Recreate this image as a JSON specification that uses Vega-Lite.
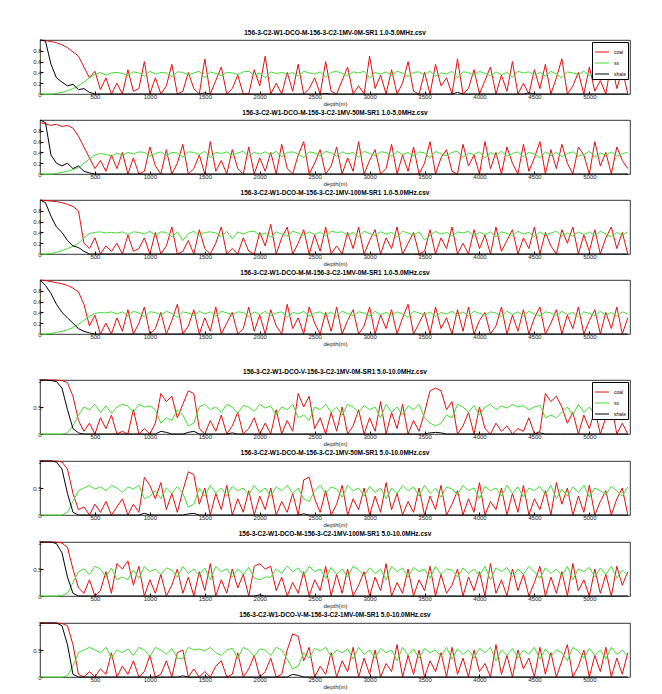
{
"$schema": "https://vega.github.io/schema/vega-lite/v6.json",
"padding": {"top": 29, "left": 32, "right": 4, "bottom": 2},
"config": {
 "font": "Liberation Sans",
 "view": {"stroke": "#000", "strokeWidth": 0.8},
 "axis": {"labelFontSize": 6, "titleFontSize": 6, "titleFontWeight": "normal", "labelColor": "#222", "titleColor": "#222", "domain": false, "grid": false, "tickColor": "#000", "tickSize": -3, "labelPadding": 2, "titlePadding": 1},
 "title": {"fontSize": 6.5, "fontWeight": "bold", "offset": 2, "color": "#000"},
 "line": {"strokeWidth": 1},
 "legend": {"labelFontSize": 5, "symbolType": "stroke", "symbolSize": 200, "symbolStrokeWidth": 1, "strokeColor": "#000", "fillColor": "#fff", "padding": 2, "rowPadding": 0, "orient": "top-right", "offset": 2, "title": null}
},
"datasets": {"t": [
{"p":1,"d":0,"r":1,"g":0,"k":1},{"p":1,"d":50,"r":0.99,"g":0,"k":0.98},{"p":1,"d":100,"r":0.97,"g":0,"k":0.55},{"p":1,"d":150,"r":0.95,"g":0.01,"k":0.3},{"p":1,"d":200,"r":0.91,"g":0.03,"k":0.22},{"p":1,"d":250,"r":0.86,"g":0.06,"k":0.15},{"p":1,"d":300,"r":0.78,"g":0.1,"k":0.18},{"p":1,"d":350,"r":0.7,"g":0.15,"k":0.08},{"p":1,"d":400,"r":0.5,"g":0.22,"k":0.1},{"p":1,"d":450,"r":0.3,"g":0.3,"k":0.03},{"p":1,"d":500,"r":0.42,"g":0.36,"k":0},{"p":1,"d":550,"r":0.08,"g":0.4,"k":0},{"p":1,"d":600,"r":0.3,"g":0.35,"k":0},{"p":1,"d":650,"r":0,"g":0.39,"k":0},
{"p":1,"d":700,"r":0.2,"g":0.4,"k":0},{"p":1,"d":750,"r":0,"g":0.38,"k":0},{"p":1,"d":800,"r":0.45,"g":0.34,"k":0},{"p":1,"d":850,"r":0.05,"g":0.41,"k":0},{"p":1,"d":900,"r":0.1,"g":0.39,"k":0},{"p":1,"d":950,"r":0.6,"g":0.33,"k":0},{"p":1,"d":1000,"r":0,"g":0.42,"k":0},{"p":1,"d":1050,"r":0.3,"g":0.37,"k":0},{"p":1,"d":1100,"r":0,"g":0.4,"k":0},{"p":1,"d":1150,"r":0.15,"g":0.39,"k":0},{"p":1,"d":1200,"r":0.55,"g":0.32,"k":0},{"p":1,"d":1250,"r":0,"g":0.41,"k":0},{"p":1,"d":1300,"r":0.05,"g":0.4,"k":0},{"p":1,"d":1350,"r":0.4,"g":0.35,"k":0},{"p":1,"d":1400,"r":0.1,"g":0.39,"k":0},{"p":1,"d":1450,"r":0,"g":0.42,"k":0},{"p":1,"d":1500,"r":0.65,"g":0.3,"k":0.02},{"p":1,"d":1550,"r":0,"g":0.41,"k":0},{"p":1,"d":1600,"r":0.25,"g":0.38,"k":0},{"p":1,"d":1650,"r":0.5,"g":0.34,"k":0},{"p":1,"d":1700,"r":0,"g":0.4,"k":0},{"p":1,"d":1750,"r":0.1,"g":0.39,"k":0},{"p":1,"d":1800,"r":0.35,"g":0.36,"k":0},{"p":1,"d":1850,"r":0,"g":0.41,"k":0},{"p":1,"d":1900,"r":0,"g":0.42,"k":0},{"p":1,"d":1950,"r":0.45,"g":0.35,"k":0},{"p":1,"d":2000,"r":0.15,"g":0.39,"k":0},{"p":1,"d":2050,"r":0.7,"g":0.3,"k":0},{"p":1,"d":2100,"r":0,"g":0.41,"k":0},{"p":1,"d":2150,"r":0.2,"g":0.38,"k":0},{"p":1,"d":2200,"r":0,"g":0.4,"k":0},{"p":1,"d":2250,"r":0.4,"g":0.36,"k":0},{"p":1,"d":2300,"r":0.05,"g":0.4,"k":0},{"p":1,"d":2350,"r":0.55,"g":0.33,"k":0},{"p":1,"d":2400,"r":0,"g":0.42,"k":0},{"p":1,"d":2450,"r":0.1,"g":0.39,"k":0},{"p":1,"d":2500,"r":0.3,"g":0.37,"k":0},{"p":1,"d":2550,"r":0,"g":0.41,"k":0},{"p":1,"d":2600,"r":0.6,"g":0.31,"k":0.01},{"p":1,"d":2650,"r":0.05,"g":0.4,"k":0},{"p":1,"d":2700,"r":0,"g":0.42,"k":0},{"p":1,"d":2750,"r":0.25,"g":0.38,"k":0},{"p":1,"d":2800,"r":0.5,"g":0.34,"k":0},{"p":1,"d":2850,"r":0,"g":0.41,"k":0},{"p":1,"d":2900,"r":0.15,"g":0.39,"k":0},{"p":1,"d":2950,"r":0,"g":0.42,"k":0},{"p":1,"d":3000,"r":0.7,"g":0.3,"k":0},{"p":1,"d":3050,"r":0.1,"g":0.4,"k":0},{"p":1,"d":3100,"r":0.35,"g":0.37,"k":0},{"p":1,"d":3150,"r":0,"g":0.41,"k":0},{"p":1,"d":3200,"r":0.45,"g":0.35,"k":0},{"p":1,"d":3250,"r":0,"g":0.42,"k":0},{"p":1,"d":3300,"r":0.2,"g":0.39,"k":0},{"p":1,"d":3350,"r":0.6,"g":0.32,"k":0},{"p":1,"d":3400,"r":0.05,"g":0.4,"k":0},{"p":1,"d":3450,"r":0,"g":0.41,"k":0},{"p":1,"d":3500,"r":0.4,"g":0.36,"k":0},{"p":1,"d":3550,"r":0,"g":0.42,"k":0},{"p":1,"d":3600,"r":0.55,"g":0.33,"k":0},{"p":1,"d":3650,"r":0.15,"g":0.39,"k":0},{"p":1,"d":3700,"r":0.3,"g":0.37,"k":0},{"p":1,"d":3750,"r":0,"g":0.42,"k":0},{"p":1,"d":3800,"r":0.65,"g":0.3,"k":0.03},{"p":1,"d":3850,"r":0,"g":0.41,"k":0},{"p":1,"d":3900,"r":0.1,"g":0.4,"k":0},{"p":1,"d":3950,"r":0.45,"g":0.35,"k":0},{"p":1,"d":4000,"r":0,"g":0.42,"k":0},{"p":1,"d":4050,"r":0.25,"g":0.38,"k":0},{"p":1,"d":4100,"r":0.5,"g":0.34,"k":0},{"p":1,"d":4150,"r":0,"g":0.41,"k":0},{"p":1,"d":4200,"r":0.35,"g":0.36,"k":0},{"p":1,"d":4250,"r":0.05,"g":0.4,"k":0},{"p":1,"d":4300,"r":0.6,"g":0.31,"k":0},{"p":1,"d":4350,"r":0,"g":0.42,"k":0},{"p":1,"d":4400,"r":0.2,"g":0.39,"k":0},{"p":1,"d":4450,"r":0,"g":0.41,"k":0.02},{"p":1,"d":4500,"r":0.45,"g":0.35,"k":0},{"p":1,"d":4550,"r":0.1,"g":0.4,"k":0},{"p":1,"d":4600,"r":0.55,"g":0.33,"k":0},{"p":1,"d":4650,"r":0,"g":0.42,"k":0},{"p":1,"d":4700,"r":0.3,"g":0.37,"k":0},{"p":1,"d":4750,"r":0.65,"g":0.3,"k":0},{"p":1,"d":4800,"r":0,"g":0.41,"k":0},{"p":1,"d":4850,"r":0.15,"g":0.39,"k":0},{"p":1,"d":4900,"r":0.4,"g":0.36,"k":0},{"p":1,"d":4950,"r":0,"g":0.42,"k":0},{"p":1,"d":5000,"r":0.5,"g":0.34,"k":0},{"p":1,"d":5050,"r":0.05,"g":0.4,"k":0},{"p":1,"d":5100,"r":0.25,"g":0.38,"k":0},{"p":1,"d":5150,"r":0,"g":0.41,"k":0},{"p":1,"d":5200,"r":0.6,"g":0.32,"k":0},{"p":1,"d":5250,"r":0.1,"g":0.4,"k":0},{"p":1,"d":5300,"r":0.45,"g":0.35,"k":0},{"p":1,"d":5350,"r":0,"g":0.41,"k":0},

{"p":2,"d":0,"r":0.95,"g":0,"k":1},{"p":2,"d":50,"r":0.93,"g":0,"k":0.95},{"p":2,"d":100,"r":0.9,"g":0,"k":0.35},{"p":2,"d":150,"r":0.92,"g":0.01,"k":0.2},{"p":2,"d":200,"r":0.88,"g":0.03,"k":0.15},{"p":2,"d":250,"r":0.9,"g":0.05,"k":0.2},{"p":2,"d":300,"r":0.85,"g":0.08,"k":0.1},{"p":2,"d":350,"r":0.7,"g":0.12,"k":0.15},{"p":2,"d":400,"r":0.5,"g":0.2,"k":0.05},{"p":2,"d":450,"r":0.3,"g":0.28,"k":0.02},{"p":2,"d":500,"r":0.1,"g":0.35,"k":0},{"p":2,"d":550,"r":0.25,"g":0.38,"k":0},{"p":2,"d":600,"r":0.05,"g":0.36,"k":0},{"p":2,"d":650,"r":0.35,"g":0.33,"k":0},
{"p":2,"d":700,"r":0.1,"g":0.39,"k":0},{"p":2,"d":750,"r":0.4,"g":0.35,"k":0},{"p":2,"d":800,"r":0,"g":0.4,"k":0},{"p":2,"d":850,"r":0.3,"g":0.37,"k":0},{"p":2,"d":900,"r":0,"g":0.41,"k":0},{"p":2,"d":950,"r":0.05,"g":0.4,"k":0},{"p":2,"d":1000,"r":0.5,"g":0.33,"k":0},{"p":2,"d":1050,"r":0.15,"g":0.38,"k":0},{"p":2,"d":1100,"r":0,"g":0.41,"k":0},{"p":2,"d":1150,"r":0.45,"g":0.34,"k":0},{"p":2,"d":1200,"r":0,"g":0.4,"k":0},{"p":2,"d":1250,"r":0.2,"g":0.39,"k":0},{"p":2,"d":1300,"r":0.55,"g":0.31,"k":0},{"p":2,"d":1350,"r":0,"g":0.41,"k":0},{"p":2,"d":1400,"r":0.1,"g":0.4,"k":0},{"p":2,"d":1450,"r":0.35,"g":0.36,"k":0},{"p":2,"d":1500,"r":0,"g":0.42,"k":0},{"p":2,"d":1550,"r":0.6,"g":0.3,"k":0},{"p":2,"d":1600,"r":0.05,"g":0.4,"k":0},{"p":2,"d":1650,"r":0.25,"g":0.38,"k":0},{"p":2,"d":1700,"r":0,"g":0.41,"k":0},{"p":2,"d":1750,"r":0.45,"g":0.35,"k":0},{"p":2,"d":1800,"r":0.1,"g":0.39,"k":0},{"p":2,"d":1850,"r":0,"g":0.42,"k":0},{"p":2,"d":1900,"r":0.5,"g":0.33,"k":0},{"p":2,"d":1950,"r":0,"g":0.4,"k":0},{"p":2,"d":2000,"r":0.3,"g":0.37,"k":0},{"p":2,"d":2050,"r":0.05,"g":0.41,"k":0},{"p":2,"d":2100,"r":0.4,"g":0.36,"k":0},{"p":2,"d":2150,"r":0,"g":0.42,"k":0},{"p":2,"d":2200,"r":0.55,"g":0.32,"k":0},{"p":2,"d":2250,"r":0.1,"g":0.4,"k":0},{"p":2,"d":2300,"r":0,"g":0.41,"k":0},{"p":2,"d":2350,"r":0.35,"g":0.37,"k":0},{"p":2,"d":2400,"r":0.6,"g":0.3,"k":0},{"p":2,"d":2450,"r":0,"g":0.41,"k":0},{"p":2,"d":2500,"r":0.2,"g":0.39,"k":0},{"p":2,"d":2550,"r":0.45,"g":0.34,"k":0},{"p":2,"d":2600,"r":0,"g":0.42,"k":0},{"p":2,"d":2650,"r":0.15,"g":0.39,"k":0},{"p":2,"d":2700,"r":0.5,"g":0.33,"k":0},{"p":2,"d":2750,"r":0,"g":0.41,"k":0},{"p":2,"d":2800,"r":0.3,"g":0.37,"k":0},{"p":2,"d":2850,"r":0.05,"g":0.4,"k":0},{"p":2,"d":2900,"r":0.6,"g":0.31,"k":0},{"p":2,"d":2950,"r":0,"g":0.42,"k":0},{"p":2,"d":3000,"r":0.25,"g":0.38,"k":0},{"p":2,"d":3050,"r":0.45,"g":0.34,"k":0},{"p":2,"d":3100,"r":0,"g":0.41,"k":0},{"p":2,"d":3150,"r":0.1,"g":0.4,"k":0},{"p":2,"d":3200,"r":0.55,"g":0.32,"k":0},{"p":2,"d":3250,"r":0,"g":0.42,"k":0},{"p":2,"d":3300,"r":0.35,"g":0.36,"k":0},{"p":2,"d":3350,"r":0.05,"g":0.4,"k":0},{"p":2,"d":3400,"r":0.5,"g":0.33,"k":0},{"p":2,"d":3450,"r":0,"g":0.41,"k":0},{"p":2,"d":3500,"r":0.2,"g":0.39,"k":0},{"p":2,"d":3550,"r":0.6,"g":0.3,"k":0},{"p":2,"d":3600,"r":0,"g":0.42,"k":0},{"p":2,"d":3650,"r":0.3,"g":0.37,"k":0},{"p":2,"d":3700,"r":0.45,"g":0.34,"k":0},{"p":2,"d":3750,"r":0.05,"g":0.4,"k":0},{"p":2,"d":3800,"r":0,"g":0.42,"k":0},{"p":2,"d":3850,"r":0.55,"g":0.31,"k":0},{"p":2,"d":3900,"r":0.15,"g":0.39,"k":0},{"p":2,"d":3950,"r":0.35,"g":0.36,"k":0},{"p":2,"d":4000,"r":0,"g":0.41,"k":0},{"p":2,"d":4050,"r":0.6,"g":0.3,"k":0},{"p":2,"d":4100,"r":0.1,"g":0.4,"k":0},{"p":2,"d":4150,"r":0.4,"g":0.35,"k":0},{"p":2,"d":4200,"r":0,"g":0.42,"k":0},{"p":2,"d":4250,"r":0.5,"g":0.33,"k":0},{"p":2,"d":4300,"r":0.2,"g":0.38,"k":0},{"p":2,"d":4350,"r":0,"g":0.41,"k":0},{"p":2,"d":4400,"r":0.55,"g":0.32,"k":0},{"p":2,"d":4450,"r":0.05,"g":0.4,"k":0},{"p":2,"d":4500,"r":0.3,"g":0.37,"k":0},{"p":2,"d":4550,"r":0.6,"g":0.3,"k":0},{"p":2,"d":4600,"r":0,"g":0.41,"k":0},{"p":2,"d":4650,"r":0.45,"g":0.34,"k":0},{"p":2,"d":4700,"r":0.1,"g":0.4,"k":0},{"p":2,"d":4750,"r":0.55,"g":0.32,"k":0},{"p":2,"d":4800,"r":0.2,"g":0.38,"k":0},{"p":2,"d":4850,"r":0,"g":0.41,"k":0},{"p":2,"d":4900,"r":0.5,"g":0.33,"k":0},{"p":2,"d":4950,"r":0.35,"g":0.36,"k":0},{"p":2,"d":5000,"r":0,"g":0.42,"k":0},{"p":2,"d":5050,"r":0.6,"g":0.31,"k":0},{"p":2,"d":5100,"r":0.15,"g":0.39,"k":0},{"p":2,"d":5150,"r":0.4,"g":0.35,"k":0},{"p":2,"d":5200,"r":0,"g":0.41,"k":0},{"p":2,"d":5250,"r":0.5,"g":0.33,"k":0},{"p":2,"d":5300,"r":0.25,"g":0.38,"k":0},{"p":2,"d":5350,"r":0.1,"g":0.4,"k":0},

{"p":3,"d":0,"r":1,"g":0,"k":1},{"p":3,"d":50,"r":0.99,"g":0,"k":0.95},{"p":3,"d":100,"r":0.98,"g":0.01,"k":0.7},{"p":3,"d":150,"r":0.97,"g":0.03,"k":0.5},{"p":3,"d":200,"r":0.95,"g":0.06,"k":0.4},{"p":3,"d":250,"r":0.92,"g":0.1,"k":0.25},{"p":3,"d":300,"r":0.88,"g":0.14,"k":0.15},{"p":3,"d":350,"r":0.8,"g":0.2,"k":0.12},{"p":3,"d":400,"r":0.2,"g":0.3,"k":0.05},{"p":3,"d":450,"r":0.1,"g":0.38,"k":0},{"p":3,"d":500,"r":0.3,"g":0.4,"k":0},{"p":3,"d":550,"r":0,"g":0.41,"k":0},{"p":3,"d":600,"r":0.15,"g":0.39,"k":0},{"p":3,"d":650,"r":0.05,"g":0.4,"k":0},
{"p":3,"d":700,"r":0.2,"g":0.39,"k":0},{"p":3,"d":750,"r":0,"g":0.41,"k":0},{"p":3,"d":800,"r":0.35,"g":0.36,"k":0},{"p":3,"d":850,"r":0.05,"g":0.41,"k":0},{"p":3,"d":900,"r":0.1,"g":0.4,"k":0},{"p":3,"d":950,"r":0.3,"g":0.37,"k":0},{"p":3,"d":1000,"r":0,"g":0.42,"k":0},{"p":3,"d":1050,"r":0.4,"g":0.35,"k":0},{"p":3,"d":1100,"r":0,"g":0.41,"k":0},{"p":3,"d":1150,"r":0.15,"g":0.4,"k":0},{"p":3,"d":1200,"r":0.5,"g":0.32,"k":0},{"p":3,"d":1250,"r":0,"g":0.41,"k":0},{"p":3,"d":1300,"r":0.05,"g":0.25,"k":0},{"p":3,"d":1350,"r":0.25,"g":0.38,"k":0},{"p":3,"d":1400,"r":0,"g":0.42,"k":0},{"p":3,"d":1450,"r":0.45,"g":0.34,"k":0},{"p":3,"d":1500,"r":0.1,"g":0.4,"k":0},{"p":3,"d":1550,"r":0,"g":0.41,"k":0},{"p":3,"d":1600,"r":0.2,"g":0.39,"k":0},{"p":3,"d":1650,"r":0.5,"g":0.32,"k":0},{"p":3,"d":1700,"r":0,"g":0.42,"k":0},{"p":3,"d":1750,"r":0.1,"g":0.28,"k":0},{"p":3,"d":1800,"r":0,"g":0.41,"k":0},{"p":3,"d":1850,"r":0.3,"g":0.37,"k":0},{"p":3,"d":1900,"r":0.05,"g":0.41,"k":0},{"p":3,"d":1950,"r":0,"g":0.42,"k":0},{"p":3,"d":2000,"r":0.4,"g":0.35,"k":0},{"p":3,"d":2050,"r":0.15,"g":0.39,"k":0},{"p":3,"d":2100,"r":0.55,"g":0.31,"k":0},{"p":3,"d":2150,"r":0,"g":0.41,"k":0},{"p":3,"d":2200,"r":0.3,"g":0.37,"k":0},{"p":3,"d":2250,"r":0.5,"g":0.33,"k":0},{"p":3,"d":2300,"r":0,"g":0.42,"k":0},{"p":3,"d":2350,"r":0.2,"g":0.39,"k":0},{"p":3,"d":2400,"r":0.45,"g":0.34,"k":0},{"p":3,"d":2450,"r":0,"g":0.41,"k":0},{"p":3,"d":2500,"r":0.35,"g":0.36,"k":0},{"p":3,"d":2550,"r":0.05,"g":0.41,"k":0},{"p":3,"d":2600,"r":0.5,"g":0.33,"k":0},{"p":3,"d":2650,"r":0,"g":0.42,"k":0},{"p":3,"d":2700,"r":0.15,"g":0.4,"k":0},{"p":3,"d":2750,"r":0,"g":0.41,"k":0},{"p":3,"d":2800,"r":0.4,"g":0.35,"k":0},{"p":3,"d":2850,"r":0.1,"g":0.4,"k":0},{"p":3,"d":2900,"r":0.5,"g":0.32,"k":0},{"p":3,"d":2950,"r":0,"g":0.42,"k":0},{"p":3,"d":3000,"r":0.25,"g":0.38,"k":0},{"p":3,"d":3050,"r":0.45,"g":0.34,"k":0},{"p":3,"d":3100,"r":0,"g":0.41,"k":0},{"p":3,"d":3150,"r":0.3,"g":0.37,"k":0},{"p":3,"d":3200,"r":0.1,"g":0.4,"k":0},{"p":3,"d":3250,"r":0.5,"g":0.32,"k":0},{"p":3,"d":3300,"r":0,"g":0.42,"k":0},{"p":3,"d":3350,"r":0.2,"g":0.39,"k":0},{"p":3,"d":3400,"r":0.4,"g":0.35,"k":0},{"p":3,"d":3450,"r":0,"g":0.41,"k":0},{"p":3,"d":3500,"r":0.05,"g":0.26,"k":0},{"p":3,"d":3550,"r":0.45,"g":0.34,"k":0},{"p":3,"d":3600,"r":0,"g":0.42,"k":0},{"p":3,"d":3650,"r":0.3,"g":0.37,"k":0},{"p":3,"d":3700,"r":0.1,"g":0.4,"k":0},{"p":3,"d":3750,"r":0.5,"g":0.33,"k":0},{"p":3,"d":3800,"r":0,"g":0.41,"k":0},{"p":3,"d":3850,"r":0.2,"g":0.39,"k":0},{"p":3,"d":3900,"r":0,"g":0.42,"k":0},{"p":3,"d":3950,"r":0.45,"g":0.34,"k":0},{"p":3,"d":4000,"r":0.1,"g":0.4,"k":0},{"p":3,"d":4050,"r":0.35,"g":0.36,"k":0},{"p":3,"d":4100,"r":0,"g":0.41,"k":0},{"p":3,"d":4150,"r":0.5,"g":0.32,"k":0},{"p":3,"d":4200,"r":0.05,"g":0.41,"k":0},{"p":3,"d":4250,"r":0.25,"g":0.38,"k":0},{"p":3,"d":4300,"r":0.45,"g":0.34,"k":0},{"p":3,"d":4350,"r":0,"g":0.42,"k":0},{"p":3,"d":4400,"r":0.3,"g":0.37,"k":0},{"p":3,"d":4450,"r":0.1,"g":0.4,"k":0},{"p":3,"d":4500,"r":0.5,"g":0.32,"k":0},{"p":3,"d":4550,"r":0,"g":0.41,"k":0},{"p":3,"d":4600,"r":0.4,"g":0.35,"k":0},{"p":3,"d":4650,"r":0.15,"g":0.39,"k":0},{"p":3,"d":4700,"r":0,"g":0.42,"k":0},{"p":3,"d":4750,"r":0.45,"g":0.34,"k":0},{"p":3,"d":4800,"r":0.2,"g":0.39,"k":0},{"p":3,"d":4850,"r":0.5,"g":0.33,"k":0},{"p":3,"d":4900,"r":0,"g":0.41,"k":0},{"p":3,"d":4950,"r":0.35,"g":0.36,"k":0},{"p":3,"d":5000,"r":0.05,"g":0.41,"k":0},{"p":3,"d":5050,"r":0.45,"g":0.34,"k":0},{"p":3,"d":5100,"r":0,"g":0.42,"k":0},{"p":3,"d":5150,"r":0.3,"g":0.37,"k":0},{"p":3,"d":5200,"r":0.5,"g":0.32,"k":0},{"p":3,"d":5250,"r":0.1,"g":0.4,"k":0},{"p":3,"d":5300,"r":0.4,"g":0.35,"k":0},{"p":3,"d":5350,"r":0,"g":0.41,"k":0},

{"p":4,"d":0,"r":1,"g":0,"k":1},{"p":4,"d":50,"r":0.99,"g":0,"k":0.9},{"p":4,"d":100,"r":0.97,"g":0.01,"k":0.75},{"p":4,"d":150,"r":0.95,"g":0.03,"k":0.55},{"p":4,"d":200,"r":0.93,"g":0.05,"k":0.4},{"p":4,"d":250,"r":0.9,"g":0.08,"k":0.3},{"p":4,"d":300,"r":0.85,"g":0.12,"k":0.2},{"p":4,"d":350,"r":0.78,"g":0.18,"k":0.1},{"p":4,"d":400,"r":0.55,"g":0.25,"k":0.05},{"p":4,"d":450,"r":0.15,"g":0.33,"k":0.02},{"p":4,"d":500,"r":0.35,"g":0.38,"k":0},{"p":4,"d":550,"r":0,"g":0.4,"k":0},{"p":4,"d":600,"r":0.2,"g":0.39,"k":0},{"p":4,"d":650,"r":0,"g":0.41,"k":0},
{"p":4,"d":700,"r":0.3,"g":0.37,"k":0},{"p":4,"d":750,"r":0.05,"g":0.41,"k":0},{"p":4,"d":800,"r":0.45,"g":0.34,"k":0},{"p":4,"d":850,"r":0,"g":0.42,"k":0},{"p":4,"d":900,"r":0.2,"g":0.39,"k":0},{"p":4,"d":950,"r":0.5,"g":0.32,"k":0},{"p":4,"d":1000,"r":0,"g":0.41,"k":0},{"p":4,"d":1050,"r":0.1,"g":0.4,"k":0},{"p":4,"d":1100,"r":0.4,"g":0.35,"k":0},{"p":4,"d":1150,"r":0,"g":0.42,"k":0},{"p":4,"d":1200,"r":0.25,"g":0.38,"k":0},{"p":4,"d":1250,"r":0.55,"g":0.31,"k":0},{"p":4,"d":1300,"r":0,"g":0.41,"k":0},{"p":4,"d":1350,"r":0.15,"g":0.39,"k":0},{"p":4,"d":1400,"r":0.45,"g":0.34,"k":0},{"p":4,"d":1450,"r":0,"g":0.42,"k":0},{"p":4,"d":1500,"r":0.3,"g":0.37,"k":0},{"p":4,"d":1550,"r":0.05,"g":0.41,"k":0},{"p":4,"d":1600,"r":0.5,"g":0.33,"k":0},{"p":4,"d":1650,"r":0,"g":0.42,"k":0},{"p":4,"d":1700,"r":0.2,"g":0.39,"k":0},{"p":4,"d":1750,"r":0.4,"g":0.35,"k":0},{"p":4,"d":1800,"r":0,"g":0.41,"k":0},{"p":4,"d":1850,"r":0.1,"g":0.4,"k":0},{"p":4,"d":1900,"r":0.5,"g":0.32,"k":0},{"p":4,"d":1950,"r":0.05,"g":0.41,"k":0},{"p":4,"d":2000,"r":0.35,"g":0.36,"k":0},{"p":4,"d":2050,"r":0,"g":0.42,"k":0},{"p":4,"d":2100,"r":0.45,"g":0.34,"k":0},{"p":4,"d":2150,"r":0.15,"g":0.39,"k":0},{"p":4,"d":2200,"r":0,"g":0.41,"k":0},{"p":4,"d":2250,"r":0.55,"g":0.31,"k":0},{"p":4,"d":2300,"r":0.1,"g":0.4,"k":0},{"p":4,"d":2350,"r":0.3,"g":0.37,"k":0},{"p":4,"d":2400,"r":0,"g":0.42,"k":0},{"p":4,"d":2450,"r":0.5,"g":0.33,"k":0},{"p":4,"d":2500,"r":0.2,"g":0.39,"k":0},{"p":4,"d":2550,"r":0,"g":0.41,"k":0},{"p":4,"d":2600,"r":0.4,"g":0.35,"k":0},{"p":4,"d":2650,"r":0.05,"g":0.41,"k":0},{"p":4,"d":2700,"r":0.5,"g":0.32,"k":0},{"p":4,"d":2750,"r":0,"g":0.42,"k":0},{"p":4,"d":2800,"r":0.25,"g":0.38,"k":0},{"p":4,"d":2850,"r":0.45,"g":0.34,"k":0},{"p":4,"d":2900,"r":0,"g":0.41,"k":0},{"p":4,"d":2950,"r":0.15,"g":0.39,"k":0},{"p":4,"d":3000,"r":0.5,"g":0.33,"k":0},{"p":4,"d":3050,"r":0,"g":0.42,"k":0},{"p":4,"d":3100,"r":0.35,"g":0.36,"k":0},{"p":4,"d":3150,"r":0.1,"g":0.4,"k":0},{"p":4,"d":3200,"r":0.45,"g":0.34,"k":0},{"p":4,"d":3250,"r":0,"g":0.41,"k":0},{"p":4,"d":3300,"r":0.3,"g":0.37,"k":0},{"p":4,"d":3350,"r":0.55,"g":0.31,"k":0},{"p":4,"d":3400,"r":0,"g":0.42,"k":0},{"p":4,"d":3450,"r":0.2,"g":0.39,"k":0},{"p":4,"d":3500,"r":0.4,"g":0.35,"k":0},{"p":4,"d":3550,"r":0,"g":0.41,"k":0},{"p":4,"d":3600,"r":0.5,"g":0.32,"k":0},{"p":4,"d":3650,"r":0.1,"g":0.4,"k":0},{"p":4,"d":3700,"r":0.3,"g":0.37,"k":0},{"p":4,"d":3750,"r":0,"g":0.42,"k":0},{"p":4,"d":3800,"r":0.45,"g":0.34,"k":0},{"p":4,"d":3850,"r":0.05,"g":0.41,"k":0},{"p":4,"d":3900,"r":0.5,"g":0.33,"k":0},{"p":4,"d":3950,"r":0,"g":0.42,"k":0},{"p":4,"d":4000,"r":0.25,"g":0.38,"k":0},{"p":4,"d":4050,"r":0.4,"g":0.35,"k":0},{"p":4,"d":4100,"r":0,"g":0.41,"k":0},{"p":4,"d":4150,"r":0.15,"g":0.39,"k":0},{"p":4,"d":4200,"r":0.5,"g":0.32,"k":0},{"p":4,"d":4250,"r":0,"g":0.42,"k":0},{"p":4,"d":4300,"r":0.35,"g":0.36,"k":0},{"p":4,"d":4350,"r":0.05,"g":0.41,"k":0},{"p":4,"d":4400,"r":0.45,"g":0.34,"k":0},{"p":4,"d":4450,"r":0,"g":0.42,"k":0},{"p":4,"d":4500,"r":0.3,"g":0.37,"k":0},{"p":4,"d":4550,"r":0.5,"g":0.33,"k":0},{"p":4,"d":4600,"r":0,"g":0.41,"k":0},{"p":4,"d":4650,"r":0.2,"g":0.39,"k":0},{"p":4,"d":4700,"r":0.45,"g":0.34,"k":0},{"p":4,"d":4750,"r":0,"g":0.42,"k":0},{"p":4,"d":4800,"r":0.35,"g":0.36,"k":0},{"p":4,"d":4850,"r":0.1,"g":0.4,"k":0},{"p":4,"d":4900,"r":0.5,"g":0.32,"k":0},{"p":4,"d":4950,"r":0,"g":0.41,"k":0},{"p":4,"d":5000,"r":0.25,"g":0.38,"k":0},{"p":4,"d":5050,"r":0.45,"g":0.34,"k":0},{"p":4,"d":5100,"r":0,"g":0.42,"k":0},{"p":4,"d":5150,"r":0.4,"g":0.35,"k":0},{"p":4,"d":5200,"r":0.1,"g":0.4,"k":0},{"p":4,"d":5250,"r":0.5,"g":0.33,"k":0},{"p":4,"d":5300,"r":0,"g":0.41,"k":0},{"p":4,"d":5350,"r":0.3,"g":0.37,"k":0},

{"p":5,"d":0,"r":1,"g":0,"k":1},{"p":5,"d":50,"r":1,"g":0,"k":1},{"p":5,"d":100,"r":1,"g":0,"k":0.99},{"p":5,"d":150,"r":1,"g":0,"k":0.97},{"p":5,"d":200,"r":0.99,"g":0,"k":0.85},{"p":5,"d":250,"r":0.95,"g":0.02,"k":0.45},{"p":5,"d":300,"r":0.7,"g":0.15,"k":0.1},{"p":5,"d":350,"r":0.25,"g":0.35,"k":0.02},{"p":5,"d":400,"r":0.05,"g":0.5,"k":0},{"p":5,"d":450,"r":0.2,"g":0.45,"k":0},{"p":5,"d":500,"r":0,"g":0.55,"k":0},{"p":5,"d":550,"r":0.3,"g":0.4,"k":0},{"p":5,"d":600,"r":0.1,"g":0.52,"k":0},{"p":5,"d":650,"r":0.35,"g":0.38,"k":0},{"p":5,"d":700,"r":0,"g":0.5,"k":0},{"p":5,"d":750,"r":0.05,"g":0.55,"k":0},{"p":5,"d":800,"r":0,"g":0.52,"k":0},{"p":5,"d":850,"r":0.45,"g":0.4,"k":0},{"p":5,"d":900,"r":0,"g":0.55,"k":0},{"p":5,"d":950,"r":0.1,"g":0.5,"k":0},{"p":5,"d":1000,"r":0,"g":0.52,"k":0},{"p":5,"d":1050,"r":0.2,"g":0.45,"k":0},{"p":5,"d":1100,"r":0.75,"g":0.2,"k":0.05},{"p":5,"d":1150,"r":0.6,"g":0.3,"k":0.03},{"p":5,"d":1200,"r":0.7,"g":0.25,"k":0},{"p":5,"d":1250,"r":0.3,"g":0.45,"k":0},{"p":5,"d":1300,"r":0.55,"g":0.35,"k":0},{"p":5,"d":1350,"r":0.8,"g":0.15,"k":0.03},{"p":5,"d":1400,"r":0.75,"g":0.2,"k":0.05},{"p":5,"d":1450,"r":0.1,"g":0.5,"k":0},{"p":5,"d":1500,"r":0,"g":0.55,"k":0},{"p":5,"d":1550,"r":0.25,"g":0.45,"k":0},{"p":5,"d":1600,"r":0.05,"g":0.5,"k":0},{"p":5,"d":1650,"r":0.35,"g":0.4,"k":0},{"p":5,"d":1700,"r":0,"g":0.55,"k":0},{"p":5,"d":1750,"r":0.15,"g":0.5,"k":0.02},{"p":5,"d":1800,"r":0.4,"g":0.38,"k":0},{"p":5,"d":1850,"r":0,"g":0.53,"k":0},{"p":5,"d":1900,"r":0.1,"g":0.5,"k":0},{"p":5,"d":1950,"r":0.3,"g":0.42,"k":0},{"p":5,"d":2000,"r":0,"g":0.55,"k":0},{"p":5,"d":2050,"r":0.2,"g":0.48,"k":0},{"p":5,"d":2100,"r":0,"g":0.52,"k":0},{"p":5,"d":2150,"r":0.45,"g":0.35,"k":0},{"p":5,"d":2200,"r":0,"g":0.5,"k":0},{"p":5,"d":2250,"r":0.25,"g":0.45,"k":0},{"p":5,"d":2300,"r":0.05,"g":0.55,"k":0},{"p":5,"d":2350,"r":0.75,"g":0.3,"k":0},{"p":5,"d":2400,"r":0.5,"g":0.35,"k":0},{"p":5,"d":2450,"r":0.7,"g":0.25,"k":0},{"p":5,"d":2500,"r":0.1,"g":0.5,"k":0},{"p":5,"d":2550,"r":0.3,"g":0.45,"k":0},{"p":5,"d":2600,"r":0,"g":0.55,"k":0},{"p":5,"d":2650,"r":0.4,"g":0.4,"k":0},{"p":5,"d":2700,"r":0.05,"g":0.5,"k":0},{"p":5,"d":2750,"r":0.5,"g":0.35,"k":0},{"p":5,"d":2800,"r":0,"g":0.55,"k":0},{"p":5,"d":2850,"r":0.15,"g":0.5,"k":0},{"p":5,"d":2900,"r":0.45,"g":0.4,"k":0},{"p":5,"d":2950,"r":0,"g":0.53,"k":0},{"p":5,"d":3000,"r":0.3,"g":0.45,"k":0},{"p":5,"d":3050,"r":0.05,"g":0.5,"k":0},{"p":5,"d":3100,"r":0.6,"g":0.3,"k":0},{"p":5,"d":3150,"r":0,"g":0.55,"k":0},{"p":5,"d":3200,"r":0.4,"g":0.4,"k":0},{"p":5,"d":3250,"r":0.1,"g":0.5,"k":0},{"p":5,"d":3300,"r":0.55,"g":0.35,"k":0},{"p":5,"d":3350,"r":0,"g":0.52,"k":0},{"p":5,"d":3400,"r":0.25,"g":0.45,"k":0},{"p":5,"d":3450,"r":0.05,"g":0.55,"k":0},{"p":5,"d":3500,"r":0.4,"g":0.3,"k":0},{"p":5,"d":3550,"r":0.8,"g":0.2,"k":0.02},{"p":5,"d":3600,"r":0.85,"g":0.15,"k":0.03},{"p":5,"d":3650,"r":0.8,"g":0.2,"k":0.02},{"p":5,"d":3700,"r":0.45,"g":0.35,"k":0},{"p":5,"d":3750,"r":0.6,"g":0.3,"k":0},{"p":5,"d":3800,"r":0,"g":0.55,"k":0},{"p":5,"d":3850,"r":0.15,"g":0.5,"k":0},{"p":5,"d":3900,"r":0.4,"g":0.4,"k":0},{"p":5,"d":3950,"r":0,"g":0.53,"k":0},{"p":5,"d":4000,"r":0.5,"g":0.35,"k":0},{"p":5,"d":4050,"r":0.1,"g":0.5,"k":0},{"p":5,"d":4100,"r":0,"g":0.55,"k":0},{"p":5,"d":4150,"r":0.2,"g":0.45,"k":0},{"p":5,"d":4200,"r":0.05,"g":0.52,"k":0},{"p":5,"d":4250,"r":0.15,"g":0.48,"k":0},{"p":5,"d":4300,"r":0,"g":0.55,"k":0},{"p":5,"d":4350,"r":0.1,"g":0.5,"k":0},{"p":5,"d":4400,"r":0.05,"g":0.52,"k":0},{"p":5,"d":4450,"r":0.3,"g":0.45,"k":0},{"p":5,"d":4500,"r":0,"g":0.5,"k":0},{"p":5,"d":4550,"r":0.05,"g":0.53,"k":0.02},{"p":5,"d":4600,"r":0.75,"g":0.3,"k":0},{"p":5,"d":4650,"r":0.6,"g":0.35,"k":0},{"p":5,"d":4700,"r":0.7,"g":0.3,"k":0},{"p":5,"d":4750,"r":0.5,"g":0.4,"k":0},{"p":5,"d":4800,"r":0.2,"g":0.5,"k":0},{"p":5,"d":4850,"r":0.4,"g":0.35,"k":0},{"p":5,"d":4900,"r":0,"g":0.55,"k":0},{"p":5,"d":4950,"r":0.35,"g":0.4,"k":0},{"p":5,"d":5000,"r":0.1,"g":0.5,"k":0},{"p":5,"d":5050,"r":0.45,"g":0.35,"k":0},{"p":5,"d":5100,"r":0,"g":0.52,"k":0},{"p":5,"d":5150,"r":0.3,"g":0.45,"k":0},{"p":5,"d":5200,"r":0.55,"g":0.3,"k":0},{"p":5,"d":5250,"r":0,"g":0.5,"k":0},{"p":5,"d":5300,"r":0.2,"g":0.45,"k":0},{"p":5,"d":5350,"r":0,"g":0.52,"k":0},

{"p":6,"d":0,"r":1,"g":0,"k":1},{"p":6,"d":50,"r":1,"g":0,"k":1},{"p":6,"d":100,"r":1,"g":0,"k":1},{"p":6,"d":150,"r":1,"g":0,"k":0.98},{"p":6,"d":200,"r":0.98,"g":0,"k":0.85},{"p":6,"d":250,"r":0.85,"g":0.05,"k":0.4},{"p":6,"d":300,"r":0.4,"g":0.25,"k":0.05},{"p":6,"d":350,"r":0.1,"g":0.45,"k":0},{"p":6,"d":400,"r":0.15,"g":0.5,"k":0},{"p":6,"d":450,"r":0,"g":0.55,"k":0},{"p":6,"d":500,"r":0.2,"g":0.48,"k":0},{"p":6,"d":550,"r":0.05,"g":0.52,"k":0},{"p":6,"d":600,"r":0.25,"g":0.45,"k":0},{"p":6,"d":650,"r":0,"g":0.55,"k":0},{"p":6,"d":700,"r":0.15,"g":0.5,"k":0},{"p":6,"d":750,"r":0.3,"g":0.42,"k":0},{"p":6,"d":800,"r":0,"g":0.52,"k":0},{"p":6,"d":850,"r":0.2,"g":0.48,"k":0},{"p":6,"d":900,"r":0.05,"g":0.55,"k":0},{"p":6,"d":950,"r":0.7,"g":0.3,"k":0.03},{"p":6,"d":1000,"r":0.55,"g":0.35,"k":0},{"p":6,"d":1050,"r":0.3,"g":0.45,"k":0},{"p":6,"d":1100,"r":0.6,"g":0.3,"k":0},{"p":6,"d":1150,"r":0.1,"g":0.5,"k":0},{"p":6,"d":1200,"r":0.4,"g":0.4,"k":0},{"p":6,"d":1250,"r":0.05,"g":0.53,"k":0},{"p":6,"d":1300,"r":0.45,"g":0.4,"k":0},{"p":6,"d":1350,"r":0.8,"g":0.15,"k":0.02},{"p":6,"d":1400,"r":0.75,"g":0.2,"k":0.03},{"p":6,"d":1450,"r":0.2,"g":0.5,"k":0},{"p":6,"d":1500,"r":0.5,"g":0.35,"k":0},{"p":6,"d":1550,"r":0,"g":0.55,"k":0},{"p":6,"d":1600,"r":0.4,"g":0.4,"k":0},{"p":6,"d":1650,"r":0.1,"g":0.5,"k":0},{"p":6,"d":1700,"r":0.55,"g":0.35,"k":0},{"p":6,"d":1750,"r":0,"g":0.53,"k":0},{"p":6,"d":1800,"r":0.3,"g":0.45,"k":0},{"p":6,"d":1850,"r":0.05,"g":0.5,"k":0},{"p":6,"d":1900,"r":0.45,"g":0.38,"k":0},{"p":6,"d":1950,"r":0,"g":0.55,"k":0},{"p":6,"d":2000,"r":0.35,"g":0.42,"k":0},{"p":6,"d":2050,"r":0.1,"g":0.5,"k":0},{"p":6,"d":2100,"r":0.5,"g":0.35,"k":0},{"p":6,"d":2150,"r":0,"g":0.52,"k":0},{"p":6,"d":2200,"r":0.25,"g":0.45,"k":0},{"p":6,"d":2250,"r":0.05,"g":0.55,"k":0},{"p":6,"d":2300,"r":0.4,"g":0.4,"k":0},{"p":6,"d":2350,"r":0,"g":0.5,"k":0},{"p":6,"d":2400,"r":0.65,"g":0.3,"k":0.02},{"p":6,"d":2450,"r":0.7,"g":0.25,"k":0},{"p":6,"d":2500,"r":0.3,"g":0.45,"k":0},{"p":6,"d":2550,"r":0.05,"g":0.55,"k":0},{"p":6,"d":2600,"r":0.45,"g":0.4,"k":0},{"p":6,"d":2650,"r":0,"g":0.52,"k":0},{"p":6,"d":2700,"r":0.2,"g":0.48,"k":0},{"p":6,"d":2750,"r":0.55,"g":0.33,"k":0},{"p":6,"d":2800,"r":0,"g":0.55,"k":0},{"p":6,"d":2850,"r":0.3,"g":0.45,"k":0},{"p":6,"d":2900,"r":0.1,"g":0.5,"k":0},{"p":6,"d":2950,"r":0.5,"g":0.35,"k":0},{"p":6,"d":3000,"r":0,"g":0.53,"k":0},{"p":6,"d":3050,"r":0.35,"g":0.42,"k":0},{"p":6,"d":3100,"r":0.05,"g":0.5,"k":0},{"p":6,"d":3150,"r":0.6,"g":0.3,"k":0},{"p":6,"d":3200,"r":0.1,"g":0.5,"k":0},{"p":6,"d":3250,"r":0.4,"g":0.4,"k":0},{"p":6,"d":3300,"r":0,"g":0.55,"k":0},{"p":6,"d":3350,"r":0.25,"g":0.45,"k":0},{"p":6,"d":3400,"r":0.05,"g":0.52,"k":0},{"p":6,"d":3450,"r":0.5,"g":0.35,"k":0},{"p":6,"d":3500,"r":0,"g":0.55,"k":0},{"p":6,"d":3550,"r":0.35,"g":0.4,"k":0},{"p":6,"d":3600,"r":0.1,"g":0.5,"k":0},{"p":6,"d":3650,"r":0.55,"g":0.33,"k":0},{"p":6,"d":3700,"r":0,"g":0.52,"k":0},{"p":6,"d":3750,"r":0.2,"g":0.48,"k":0},{"p":6,"d":3800,"r":0.45,"g":0.38,"k":0},{"p":6,"d":3850,"r":0,"g":0.55,"k":0},{"p":6,"d":3900,"r":0.3,"g":0.45,"k":0},{"p":6,"d":3950,"r":0.05,"g":0.5,"k":0},{"p":6,"d":4000,"r":0.6,"g":0.3,"k":0},{"p":6,"d":4050,"r":0,"g":0.53,"k":0},{"p":6,"d":4100,"r":0.25,"g":0.45,"k":0},{"p":6,"d":4150,"r":0.1,"g":0.5,"k":0},{"p":6,"d":4200,"r":0.5,"g":0.35,"k":0},{"p":6,"d":4250,"r":0,"g":0.55,"k":0},{"p":6,"d":4300,"r":0.4,"g":0.4,"k":0},{"p":6,"d":4350,"r":0.05,"g":0.52,"k":0},{"p":6,"d":4400,"r":0.55,"g":0.33,"k":0},{"p":6,"d":4450,"r":0,"g":0.5,"k":0},{"p":6,"d":4500,"r":0.3,"g":0.45,"k":0},{"p":6,"d":4550,"r":0.1,"g":0.53,"k":0},{"p":6,"d":4600,"r":0.45,"g":0.38,"k":0},{"p":6,"d":4650,"r":0,"g":0.55,"k":0},{"p":6,"d":4700,"r":0.6,"g":0.3,"k":0},{"p":6,"d":4750,"r":0.2,"g":0.48,"k":0},{"p":6,"d":4800,"r":0.5,"g":0.35,"k":0},{"p":6,"d":4850,"r":0,"g":0.52,"k":0},{"p":6,"d":4900,"r":0.35,"g":0.42,"k":0},{"p":6,"d":4950,"r":0.05,"g":0.55,"k":0},{"p":6,"d":5000,"r":0.55,"g":0.33,"k":0},{"p":6,"d":5050,"r":0,"g":0.5,"k":0},{"p":6,"d":5100,"r":0.25,"g":0.45,"k":0},{"p":6,"d":5150,"r":0.45,"g":0.38,"k":0},{"p":6,"d":5200,"r":0,"g":0.53,"k":0},{"p":6,"d":5250,"r":0.3,"g":0.45,"k":0},{"p":6,"d":5300,"r":0.5,"g":0.35,"k":0},{"p":6,"d":5350,"r":0,"g":0.52,"k":0},

{"p":7,"d":0,"r":1,"g":0,"k":1},{"p":7,"d":50,"r":1,"g":0,"k":1},{"p":7,"d":100,"r":1,"g":0,"k":1},{"p":7,"d":150,"r":1,"g":0,"k":0.97},{"p":7,"d":200,"r":0.98,"g":0.01,"k":0.8},{"p":7,"d":250,"r":0.9,"g":0.05,"k":0.35},{"p":7,"d":300,"r":0.5,"g":0.25,"k":0.05},{"p":7,"d":350,"r":0.15,"g":0.45,"k":0},{"p":7,"d":400,"r":0.05,"g":0.5,"k":0},{"p":7,"d":450,"r":0.3,"g":0.4,"k":0},{"p":7,"d":500,"r":0,"g":0.55,"k":0},{"p":7,"d":550,"r":0.1,"g":0.5,"k":0},{"p":7,"d":600,"r":0.45,"g":0.35,"k":0},{"p":7,"d":650,"r":0.05,"g":0.52,"k":0},{"p":7,"d":700,"r":0.6,"g":0.3,"k":0},{"p":7,"d":750,"r":0.5,"g":0.35,"k":0},{"p":7,"d":800,"r":0.65,"g":0.3,"k":0},{"p":7,"d":850,"r":0.2,"g":0.48,"k":0},{"p":7,"d":900,"r":0.55,"g":0.33,"k":0},{"p":7,"d":950,"r":0,"g":0.55,"k":0},{"p":7,"d":1000,"r":0.3,"g":0.45,"k":0},{"p":7,"d":1050,"r":0.05,"g":0.5,"k":0},{"p":7,"d":1100,"r":0.4,"g":0.4,"k":0},{"p":7,"d":1150,"r":0,"g":0.52,"k":0},{"p":7,"d":1200,"r":0.2,"g":0.48,"k":0},{"p":7,"d":1250,"r":0.5,"g":0.35,"k":0},{"p":7,"d":1300,"r":0.05,"g":0.55,"k":0},{"p":7,"d":1350,"r":0.35,"g":0.42,"k":0},{"p":7,"d":1400,"r":0,"g":0.5,"k":0},{"p":7,"d":1450,"r":0.45,"g":0.38,"k":0},{"p":7,"d":1500,"r":0.1,"g":0.52,"k":0},{"p":7,"d":1550,"r":0.6,"g":0.3,"k":0},{"p":7,"d":1600,"r":0,"g":0.55,"k":0},{"p":7,"d":1650,"r":0.3,"g":0.45,"k":0},{"p":7,"d":1700,"r":0.05,"g":0.5,"k":0},{"p":7,"d":1750,"r":0.5,"g":0.35,"k":0},{"p":7,"d":1800,"r":0.15,"g":0.5,"k":0},{"p":7,"d":1850,"r":0.4,"g":0.4,"k":0},{"p":7,"d":1900,"r":0,"g":0.53,"k":0},{"p":7,"d":1950,"r":0.55,"g":0.33,"k":0},{"p":7,"d":2000,"r":0.6,"g":0.3,"k":0.02},{"p":7,"d":2050,"r":0.5,"g":0.35,"k":0},{"p":7,"d":2100,"r":0.55,"g":0.35,"k":0},{"p":7,"d":2150,"r":0.1,"g":0.5,"k":0},{"p":7,"d":2200,"r":0.35,"g":0.42,"k":0},{"p":7,"d":2250,"r":0,"g":0.55,"k":0},{"p":7,"d":2300,"r":0.25,"g":0.45,"k":0},{"p":7,"d":2350,"r":0.05,"g":0.52,"k":0},{"p":7,"d":2400,"r":0.45,"g":0.38,"k":0},{"p":7,"d":2450,"r":0,"g":0.55,"k":0},{"p":7,"d":2500,"r":0.3,"g":0.45,"k":0},{"p":7,"d":2550,"r":0.1,"g":0.5,"k":0},{"p":7,"d":2600,"r":0.55,"g":0.33,"k":0},{"p":7,"d":2650,"r":0,"g":0.53,"k":0},{"p":7,"d":2700,"r":0.4,"g":0.4,"k":0},{"p":7,"d":2750,"r":0.05,"g":0.5,"k":0},{"p":7,"d":2800,"r":0.5,"g":0.35,"k":0},{"p":7,"d":2850,"r":0,"g":0.55,"k":0},{"p":7,"d":2900,"r":0.2,"g":0.48,"k":0},{"p":7,"d":2950,"r":0.45,"g":0.38,"k":0},{"p":7,"d":3000,"r":0,"g":0.52,"k":0},{"p":7,"d":3050,"r":0.35,"g":0.42,"k":0},{"p":7,"d":3100,"r":0.1,"g":0.5,"k":0},{"p":7,"d":3150,"r":0.6,"g":0.3,"k":0},{"p":7,"d":3200,"r":0,"g":0.55,"k":0},{"p":7,"d":3250,"r":0.25,"g":0.45,"k":0},{"p":7,"d":3300,"r":0.05,"g":0.52,"k":0},{"p":7,"d":3350,"r":0.5,"g":0.35,"k":0},{"p":7,"d":3400,"r":0,"g":0.53,"k":0},{"p":7,"d":3450,"r":0.3,"g":0.45,"k":0},{"p":7,"d":3500,"r":0.1,"g":0.5,"k":0},{"p":7,"d":3550,"r":0.55,"g":0.33,"k":0},{"p":7,"d":3600,"r":0,"g":0.55,"k":0},{"p":7,"d":3650,"r":0.4,"g":0.4,"k":0},{"p":7,"d":3700,"r":0.05,"g":0.5,"k":0},{"p":7,"d":3750,"r":0.2,"g":0.48,"k":0},{"p":7,"d":3800,"r":0.5,"g":0.35,"k":0},{"p":7,"d":3850,"r":0,"g":0.52,"k":0},{"p":7,"d":3900,"r":0.35,"g":0.42,"k":0},{"p":7,"d":3950,"r":0.1,"g":0.5,"k":0},{"p":7,"d":4000,"r":0.45,"g":0.38,"k":0},{"p":7,"d":4050,"r":0,"g":0.55,"k":0},{"p":7,"d":4100,"r":0.6,"g":0.3,"k":0},{"p":7,"d":4150,"r":0.05,"g":0.52,"k":0},{"p":7,"d":4200,"r":0.3,"g":0.45,"k":0},{"p":7,"d":4250,"r":0,"g":0.53,"k":0},{"p":7,"d":4300,"r":0.5,"g":0.35,"k":0},{"p":7,"d":4350,"r":0.1,"g":0.5,"k":0},{"p":7,"d":4400,"r":0.4,"g":0.4,"k":0},{"p":7,"d":4450,"r":0,"g":0.55,"k":0},{"p":7,"d":4500,"r":0.25,"g":0.45,"k":0},{"p":7,"d":4550,"r":0.55,"g":0.33,"k":0},{"p":7,"d":4600,"r":0,"g":0.52,"k":0},{"p":7,"d":4650,"r":0.35,"g":0.42,"k":0},{"p":7,"d":4700,"r":0.05,"g":0.5,"k":0},{"p":7,"d":4750,"r":0.45,"g":0.38,"k":0},{"p":7,"d":4800,"r":0,"g":0.55,"k":0},{"p":7,"d":4850,"r":0.6,"g":0.3,"k":0},{"p":7,"d":4900,"r":0.1,"g":0.5,"k":0},{"p":7,"d":4950,"r":0.3,"g":0.45,"k":0},{"p":7,"d":5000,"r":0,"g":0.53,"k":0},{"p":7,"d":5050,"r":0.5,"g":0.35,"k":0},{"p":7,"d":5100,"r":0.05,"g":0.52,"k":0},{"p":7,"d":5150,"r":0.4,"g":0.4,"k":0},{"p":7,"d":5200,"r":0,"g":0.55,"k":0},{"p":7,"d":5250,"r":0.55,"g":0.33,"k":0},{"p":7,"d":5300,"r":0.2,"g":0.48,"k":0},{"p":7,"d":5350,"r":0.45,"g":0.38,"k":0},

{"p":8,"d":0,"r":1,"g":0,"k":1},{"p":8,"d":50,"r":1,"g":0,"k":1},{"p":8,"d":100,"r":1,"g":0,"k":1},{"p":8,"d":150,"r":1,"g":0,"k":1},{"p":8,"d":200,"r":0.99,"g":0,"k":0.95},{"p":8,"d":250,"r":0.95,"g":0.02,"k":0.6},{"p":8,"d":300,"r":0.6,"g":0.2,"k":0.05},{"p":8,"d":350,"r":0.05,"g":0.45,"k":0},{"p":8,"d":400,"r":0,"g":0.5,"k":0},{"p":8,"d":450,"r":0.1,"g":0.55,"k":0},{"p":8,"d":500,"r":0,"g":0.5,"k":0},{"p":8,"d":550,"r":0.15,"g":0.45,"k":0},{"p":8,"d":600,"r":0.05,"g":0.55,"k":0},{"p":8,"d":650,"r":0.45,"g":0.35,"k":0},{"p":8,"d":700,"r":0,"g":0.5,"k":0},{"p":8,"d":750,"r":0.2,"g":0.45,"k":0},{"p":8,"d":800,"r":0.05,"g":0.52,"k":0},{"p":8,"d":850,"r":0.3,"g":0.4,"k":0},{"p":8,"d":900,"r":0,"g":0.55,"k":0},{"p":8,"d":950,"r":0.1,"g":0.5,"k":0},{"p":8,"d":1000,"r":0.4,"g":0.38,"k":0},{"p":8,"d":1050,"r":0,"g":0.55,"k":0},{"p":8,"d":1100,"r":0.05,"g":0.5,"k":0},{"p":8,"d":1150,"r":0.3,"g":0.42,"k":0},{"p":8,"d":1200,"r":0,"g":0.53,"k":0},{"p":8,"d":1250,"r":0.45,"g":0.35,"k":0},{"p":8,"d":1300,"r":0.5,"g":0.33,"k":0.02},{"p":8,"d":1350,"r":0,"g":0.55,"k":0},{"p":8,"d":1400,"r":0.15,"g":0.5,"k":0},{"p":8,"d":1450,"r":0,"g":0.52,"k":0},{"p":8,"d":1500,"r":0.1,"g":0.48,"k":0},{"p":8,"d":1550,"r":0,"g":0.55,"k":0},{"p":8,"d":1600,"r":0.2,"g":0.45,"k":0},{"p":8,"d":1650,"r":0.3,"g":0.4,"k":0},{"p":8,"d":1700,"r":0,"g":0.5,"k":0},{"p":8,"d":1750,"r":0.05,"g":0.53,"k":0},{"p":8,"d":1800,"r":0.45,"g":0.35,"k":0},{"p":8,"d":1850,"r":0,"g":0.55,"k":0},{"p":8,"d":1900,"r":0.15,"g":0.5,"k":0},{"p":8,"d":1950,"r":0.4,"g":0.38,"k":0},{"p":8,"d":2000,"r":0,"g":0.52,"k":0},{"p":8,"d":2050,"r":0.1,"g":0.5,"k":0},{"p":8,"d":2100,"r":0.35,"g":0.4,"k":0},{"p":8,"d":2150,"r":0,"g":0.55,"k":0},{"p":8,"d":2200,"r":0.05,"g":0.5,"k":0},{"p":8,"d":2250,"r":0.5,"g":0.33,"k":0},{"p":8,"d":2300,"r":0.8,"g":0.15,"k":0.05},{"p":8,"d":2350,"r":0.75,"g":0.2,"k":0.03},{"p":8,"d":2400,"r":0.3,"g":0.45,"k":0},{"p":8,"d":2450,"r":0.55,"g":0.35,"k":0},{"p":8,"d":2500,"r":0,"g":0.53,"k":0},{"p":8,"d":2550,"r":0.2,"g":0.48,"k":0},{"p":8,"d":2600,"r":0.05,"g":0.55,"k":0},{"p":8,"d":2650,"r":0.45,"g":0.38,"k":0},{"p":8,"d":2700,"r":0,"g":0.5,"k":0},{"p":8,"d":2750,"r":0.3,"g":0.45,"k":0},{"p":8,"d":2800,"r":0.1,"g":0.52,"k":0},{"p":8,"d":2850,"r":0.55,"g":0.33,"k":0},{"p":8,"d":2900,"r":0,"g":0.55,"k":0},{"p":8,"d":2950,"r":0.35,"g":0.42,"k":0},{"p":8,"d":3000,"r":0.05,"g":0.5,"k":0},{"p":8,"d":3050,"r":0.5,"g":0.35,"k":0},{"p":8,"d":3100,"r":0,"g":0.53,"k":0},{"p":8,"d":3150,"r":0.25,"g":0.45,"k":0},{"p":8,"d":3200,"r":0.1,"g":0.5,"k":0},{"p":8,"d":3250,"r":0.6,"g":0.3,"k":0},{"p":8,"d":3300,"r":0,"g":0.55,"k":0},{"p":8,"d":3350,"r":0.4,"g":0.4,"k":0},{"p":8,"d":3400,"r":0.05,"g":0.52,"k":0},{"p":8,"d":3450,"r":0.5,"g":0.35,"k":0},{"p":8,"d":3500,"r":0,"g":0.53,"k":0},{"p":8,"d":3550,"r":0.3,"g":0.45,"k":0},{"p":8,"d":3600,"r":0.1,"g":0.5,"k":0},{"p":8,"d":3650,"r":0.45,"g":0.38,"k":0},{"p":8,"d":3700,"r":0,"g":0.55,"k":0},{"p":8,"d":3750,"r":0.55,"g":0.33,"k":0},{"p":8,"d":3800,"r":0.05,"g":0.52,"k":0},{"p":8,"d":3850,"r":0.35,"g":0.42,"k":0},{"p":8,"d":3900,"r":0,"g":0.5,"k":0},{"p":8,"d":3950,"r":0.5,"g":0.35,"k":0},{"p":8,"d":4000,"r":0.1,"g":0.53,"k":0},{"p":8,"d":4050,"r":0.25,"g":0.45,"k":0},{"p":8,"d":4100,"r":0,"g":0.55,"k":0},{"p":8,"d":4150,"r":0.6,"g":0.3,"k":0},{"p":8,"d":4200,"r":0.05,"g":0.5,"k":0},{"p":8,"d":4250,"r":0.4,"g":0.4,"k":0},{"p":8,"d":4300,"r":0,"g":0.53,"k":0},{"p":8,"d":4350,"r":0.5,"g":0.35,"k":0},{"p":8,"d":4400,"r":0.15,"g":0.5,"k":0},{"p":8,"d":4450,"r":0.35,"g":0.42,"k":0},{"p":8,"d":4500,"r":0,"g":0.55,"k":0},{"p":8,"d":4550,"r":0.55,"g":0.33,"k":0},{"p":8,"d":4600,"r":0.05,"g":0.52,"k":0},{"p":8,"d":4650,"r":0.45,"g":0.38,"k":0},{"p":8,"d":4700,"r":0,"g":0.5,"k":0},{"p":8,"d":4750,"r":0.3,"g":0.45,"k":0},{"p":8,"d":4800,"r":0.6,"g":0.3,"k":0},{"p":8,"d":4850,"r":0,"g":0.55,"k":0},{"p":8,"d":4900,"r":0.2,"g":0.48,"k":0},{"p":8,"d":4950,"r":0.5,"g":0.35,"k":0},{"p":8,"d":5000,"r":0,"g":0.53,"k":0},{"p":8,"d":5050,"r":0.4,"g":0.4,"k":0},{"p":8,"d":5100,"r":0.1,"g":0.5,"k":0},{"p":8,"d":5150,"r":0.55,"g":0.33,"k":0},{"p":8,"d":5200,"r":0,"g":0.55,"k":0},{"p":8,"d":5250,"r":0.35,"g":0.42,"k":0},{"p":8,"d":5300,"r":0.05,"g":0.5,"k":0},{"p":8,"d":5350,"r":0.45,"g":0.38,"k":0}
]},
"spacing": 21,
"resolve": {"legend": {"color": "independent"}},
"vconcat": [
{"spacing": 2, "resolve": {"legend": {"color": "independent"}}, "vconcat": [
{"title": "156-3-C2-W1-DCO-M-156-3-C2-1MV-0M-SR1  1.0-5.0MHz.csv", "width": 590, "height": 54, "data": {"name": "t"},
 "transform": [{"filter": "datum.p==1"}, {"fold": ["r","g","k"], "as": ["s","v"]}],
 "mark": "line",
 "encoding": {
  "x": {"field": "d", "type": "quantitative", "scale": {"domain": [0,5370], "nice": false}, "axis": {"values": [500,1000,1500,2000,2500,3000,3500,4000,4500,5000], "format": "d", "title": "depth(m)"}},
  "y": {"field": "v", "type": "quantitative", "scale": {"domain": [0,1], "nice": false}, "axis": {"values": [0,0.2,0.4,0.6,0.8], "format": "~g", "title": null}},
  "color": {"field": "s", "type": "nominal", "sort": ["r","g","k"], "scale": {"domain": ["r","g","k"], "range": ["#e01010","#44dd33","#000000"]}, "legend": {"labelExpr": "datum.label=='r'?'coal':datum.label=='g'?'ss':'shale'"}}
 }},
{"title": "156-3-C2-W1-DCO-M-156-3-C2-1MV-50M-SR1  1.0-5.0MHz.csv", "width": 590, "height": 54, "data": {"name": "t"},
 "transform": [{"filter": "datum.p==2"}, {"fold": ["r","g","k"], "as": ["s","v"]}],
 "mark": "line",
 "encoding": {
  "x": {"field": "d", "type": "quantitative", "scale": {"domain": [0,5370], "nice": false}, "axis": {"values": [500,1000,1500,2000,2500,3000,3500,4000,4500,5000], "format": "d", "title": "depth(m)"}},
  "y": {"field": "v", "type": "quantitative", "scale": {"domain": [0,1], "nice": false}, "axis": {"values": [0,0.2,0.4,0.6,0.8], "format": "~g", "title": null}},
  "color": {"field": "s", "type": "nominal", "sort": ["r","g","k"], "scale": {"domain": ["r","g","k"], "range": ["#e01010","#44dd33","#000000"]}, "legend": null}
 }},
{"title": "156-3-C2-W1-DCO-M-156-3-C2-1MV-100M-SR1  1.0-5.0MHz.csv", "width": 590, "height": 54, "data": {"name": "t"},
 "transform": [{"filter": "datum.p==3"}, {"fold": ["r","g","k"], "as": ["s","v"]}],
 "mark": "line",
 "encoding": {
  "x": {"field": "d", "type": "quantitative", "scale": {"domain": [0,5370], "nice": false}, "axis": {"values": [500,1000,1500,2000,2500,3000,3500,4000,4500,5000], "format": "d", "title": "depth(m)"}},
  "y": {"field": "v", "type": "quantitative", "scale": {"domain": [0,1], "nice": false}, "axis": {"values": [0,0.2,0.4,0.6,0.8], "format": "~g", "title": null}},
  "color": {"field": "s", "type": "nominal", "sort": ["r","g","k"], "scale": {"domain": ["r","g","k"], "range": ["#e01010","#44dd33","#000000"]}, "legend": null}
 }},
{"title": "156-3-C2-W1-DCO-M-M-156-3-C2-1MV-0M-SR1  1.0-5.0MHz.csv", "width": 590, "height": 54, "data": {"name": "t"},
 "transform": [{"filter": "datum.p==4"}, {"fold": ["r","g","k"], "as": ["s","v"]}],
 "mark": "line",
 "encoding": {
  "x": {"field": "d", "type": "quantitative", "scale": {"domain": [0,5370], "nice": false}, "axis": {"values": [500,1000,1500,2000,2500,3000,3500,4000,4500,5000], "format": "d", "title": "depth(m)"}},
  "y": {"field": "v", "type": "quantitative", "scale": {"domain": [0,1], "nice": false}, "axis": {"values": [0,0.2,0.4,0.6,0.8], "format": "~g", "title": null}},
  "color": {"field": "s", "type": "nominal", "sort": ["r","g","k"], "scale": {"domain": ["r","g","k"], "range": ["#e01010","#44dd33","#000000"]}, "legend": null}
 }}
]},
{"spacing": 2, "resolve": {"legend": {"color": "independent"}}, "vconcat": [
{"title": "156-3-C2-W1-DCO-V-156-3-C2-1MV-0M-SR1  5.0-10.0MHz.csv", "width": 590, "height": 54, "data": {"name": "t"},
 "transform": [{"filter": "datum.p==5"}, {"fold": ["r","g","k"], "as": ["s","v"]}],
 "mark": "line",
 "encoding": {
  "x": {"field": "d", "type": "quantitative", "scale": {"domain": [0,5370], "nice": false}, "axis": {"values": [500,1000,1500,2000,2500,3000,3500,4000,4500,5000], "format": "d", "title": "depth(m)"}},
  "y": {"field": "v", "type": "quantitative", "scale": {"domain": [0,1], "nice": false}, "axis": {"values": [0,0.5,1], "format": "~g", "title": null}},
  "color": {"field": "s", "type": "nominal", "sort": ["r","g","k"], "scale": {"domain": ["r","g","k"], "range": ["#e01010","#44dd33","#000000"]}, "legend": {"labelExpr": "datum.label=='r'?'coal':datum.label=='g'?'ss':'shale'"}}
 }},
{"title": "156-3-C2-W1-DCO-M-156-3-C2-1MV-50M-SR1  5.0-10.0MHz.csv", "width": 590, "height": 54, "data": {"name": "t"},
 "transform": [{"filter": "datum.p==6"}, {"fold": ["r","g","k"], "as": ["s","v"]}],
 "mark": "line",
 "encoding": {
  "x": {"field": "d", "type": "quantitative", "scale": {"domain": [0,5370], "nice": false}, "axis": {"values": [500,1000,1500,2000,2500,3000,3500,4000,4500,5000], "format": "d", "title": "depth(m)"}},
  "y": {"field": "v", "type": "quantitative", "scale": {"domain": [0,1], "nice": false}, "axis": {"values": [0,0.5,1], "format": "~g", "title": null}},
  "color": {"field": "s", "type": "nominal", "sort": ["r","g","k"], "scale": {"domain": ["r","g","k"], "range": ["#e01010","#44dd33","#000000"]}, "legend": null}
 }},
{"title": "156-3-C2-W1-DCO-M-156-3-C2-1MV-100M-SR1  5.0-10.0MHz.csv", "width": 590, "height": 54, "data": {"name": "t"},
 "transform": [{"filter": "datum.p==7"}, {"fold": ["r","g","k"], "as": ["s","v"]}],
 "mark": "line",
 "encoding": {
  "x": {"field": "d", "type": "quantitative", "scale": {"domain": [0,5370], "nice": false}, "axis": {"values": [500,1000,1500,2000,2500,3000,3500,4000,4500,5000], "format": "d", "title": "depth(m)"}},
  "y": {"field": "v", "type": "quantitative", "scale": {"domain": [0,1], "nice": false}, "axis": {"values": [0,0.5,1], "format": "~g", "title": null}},
  "color": {"field": "s", "type": "nominal", "sort": ["r","g","k"], "scale": {"domain": ["r","g","k"], "range": ["#e01010","#44dd33","#000000"]}, "legend": null}
 }},
{"title": "156-3-C2-W1-DCO-V-M-156-3-C2-1MV-0M-SR1  5.0-10.0MHz.csv", "width": 590, "height": 54, "data": {"name": "t"},
 "transform": [{"filter": "datum.p==8"}, {"fold": ["r","g","k"], "as": ["s","v"]}],
 "mark": "line",
 "encoding": {
  "x": {"field": "d", "type": "quantitative", "scale": {"domain": [0,5370], "nice": false}, "axis": {"values": [500,1000,1500,2000,2500,3000,3500,4000,4500,5000], "format": "d", "title": "depth(m)"}},
  "y": {"field": "v", "type": "quantitative", "scale": {"domain": [0,1], "nice": false}, "axis": {"values": [0,0.5,1], "format": "~g", "title": null}},
  "color": {"field": "s", "type": "nominal", "sort": ["r","g","k"], "scale": {"domain": ["r","g","k"], "range": ["#e01010","#44dd33","#000000"]}, "legend": null}
 }}
]}
]
}
